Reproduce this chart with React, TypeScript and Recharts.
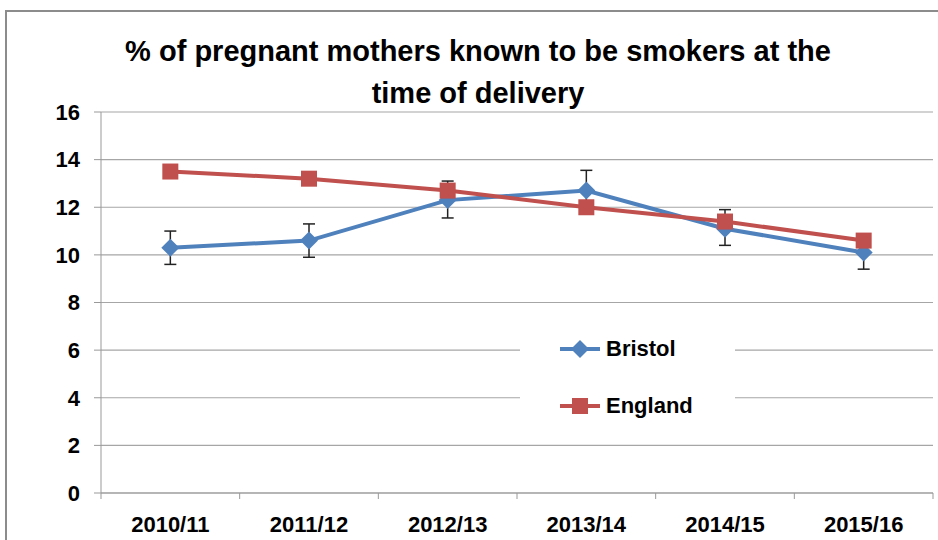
import { CartesianGrid, ErrorBar, Legend, Line, LineChart, XAxis, YAxis } from "recharts";

const periods = ["2010/11", "2011/12", "2012/13", "2013/14", "2014/15", "2015/16"];
const bristol = [10.3, 10.6, 12.3, 12.7, 11.1, 10.1];
// confidence interval [below, above] for each Bristol value
const bristolCI = [
  [0.7, 0.7],
  [0.7, 0.7],
  [0.75, 0.8],
  [0.75, 0.85],
  [0.7, 0.8],
  [0.7, 0.65]
];
const england = [13.5, 13.2, 12.7, 12.0, 11.4, 10.6];
const yTicks = [0, 2, 4, 6, 8, 10, 12, 14, 16];

const BLUE = "#4f81bd";
const RED = "#c0504d";
const FONT = "'Liberation Sans Narrow', 'Liberation Sans', Arial, sans-serif";

const WIDTH = 938;
const HEIGHT = 540;
const PLOT_LEFT = 101;
const PLOT_RIGHT = 933;
const BAND = (PLOT_RIGHT - PLOT_LEFT) / periods.length;

const rows = periods.map((period, i) => ({
  period,
  bristol: bristol[i],
  bristolErr: bristolCI[i],
  england: england[i]
}));

// markers ignore the fill/r that Line hands to its dots
function Diamond({ cx, cy }: any) {
  if (cx == null || cy == null) return null;
  const r = 9;
  return <polygon points={`${cx},${cy - r} ${cx + r},${cy} ${cx},${cy + r} ${cx - r},${cy}`} fill={BLUE} />;
}

function Square({ cx, cy }: any) {
  if (cx == null || cy == null) return null;
  const s = 8;
  return <rect x={cx - s} y={cy - s} width={s * 2} height={s * 2} fill={RED} />;
}

function PeriodTick({ x, y, payload, index }: any) {
  const left = x - BAND / 2;
  return (
    <g>
      <line x1={left} y1={y - 8} x2={left} y2={y - 2} stroke="#999" />
      {index === periods.length - 1 && <line x1={x + BAND / 2} y1={y - 8} x2={x + BAND / 2} y2={y - 2} stroke="#999" />}
      <text x={x} y={y + 31} textAnchor="middle" fontFamily={FONT} fontWeight="bold" fontSize={22} fill="#000">
        {payload.value}
      </text>
    </g>
  );
}

function SeriesKey() {
  const items = [
    { name: "Bristol", color: BLUE, marker: <Diamond cx={20} cy={10} /> },
    { name: "England", color: RED, marker: <Square cx={20} cy={10} /> }
  ];
  return (
    <div style={{ background: "#fff", width: 215, height: 105, position: "relative" }}>
      {items.map((item, i) => (
        <div key={item.name} style={{ position: "absolute", left: 40, top: 10 + i * 57, display: "flex", alignItems: "center" }}>
          <svg width={42} height={20}>
            <line x1={0} y1={10} x2={40} y2={10} stroke={item.color} strokeWidth={4} />
            {item.marker}
          </svg>
          <span style={{ fontFamily: FONT, fontWeight: "bold", fontSize: 22, marginLeft: 4, color: "#000" }}>{item.name}</span>
        </div>
      ))}
    </div>
  );
}

export default function App() {
  return (
    <div style={{ position: "absolute", left: 0, top: 0, width: WIDTH, height: HEIGHT, overflow: "hidden", background: "#fff" }}>
      <div
        style={{
          position: "absolute",
          left: 5,
          top: 10,
          width: 960,
          height: 560,
          border: "2px solid #8c8c8c"
        }}
      />
      <div
        style={{
          position: "absolute",
          left: 0,
          top: 30,
          width: 956,
          textAlign: "center",
          fontFamily: FONT,
          fontWeight: "bold",
          fontSize: 29,
          lineHeight: "42px",
          color: "#000"
        }}
      >
        % of pregnant mothers known to be smokers at the
        <br />
        time of delivery
      </div>
      <div style={{ position: "absolute", left: 0, top: 0 }}>
        <LineChart width={WIDTH} height={HEIGHT} data={rows} margin={{ top: 112, right: WIDTH - PLOT_RIGHT, bottom: 0, left: 41 }}>
          <CartesianGrid vertical={false} stroke="#a6a6a6" strokeWidth={1.2} />
          <XAxis
            dataKey="period"
            height={47}
            stroke="#999"
            tickLine={false}
            tick={<PeriodTick />}
            interval={0}
            padding={{ left: BAND / 2, right: BAND / 2 }}
          />
          <YAxis
            width={60}
            domain={[0, 16]}
            ticks={yTicks}
            interval={0}
            stroke="#999"
            tickSize={7}
            tickMargin={14}
            tick={{ fill: "#000", fontFamily: FONT, fontWeight: "bold", fontSize: 22 }}
          />
          <Legend
            layout="horizontal"
            verticalAlign="middle"
            align="center"
            content={<SeriesKey />}
            wrapperStyle={{ position: "absolute", left: 520, top: 326, width: 215, height: 105 }}
          />
          <Line
            dataKey="bristol"
            name="Bristol"
            stroke={BLUE}
            strokeWidth={4}
            dot={<Diamond />}
            activeDot={false}
            isAnimationActive={false}
          >
            <ErrorBar dataKey="bristolErr" width={6} stroke="#222" strokeWidth={1.5} direction="y" />
          </Line>
          <Line
            dataKey="england"
            name="England"
            stroke={RED}
            strokeWidth={4}
            dot={<Square />}
            activeDot={false}
            isAnimationActive={false}
          />
        </LineChart>
      </div>
    </div>
  );
}
